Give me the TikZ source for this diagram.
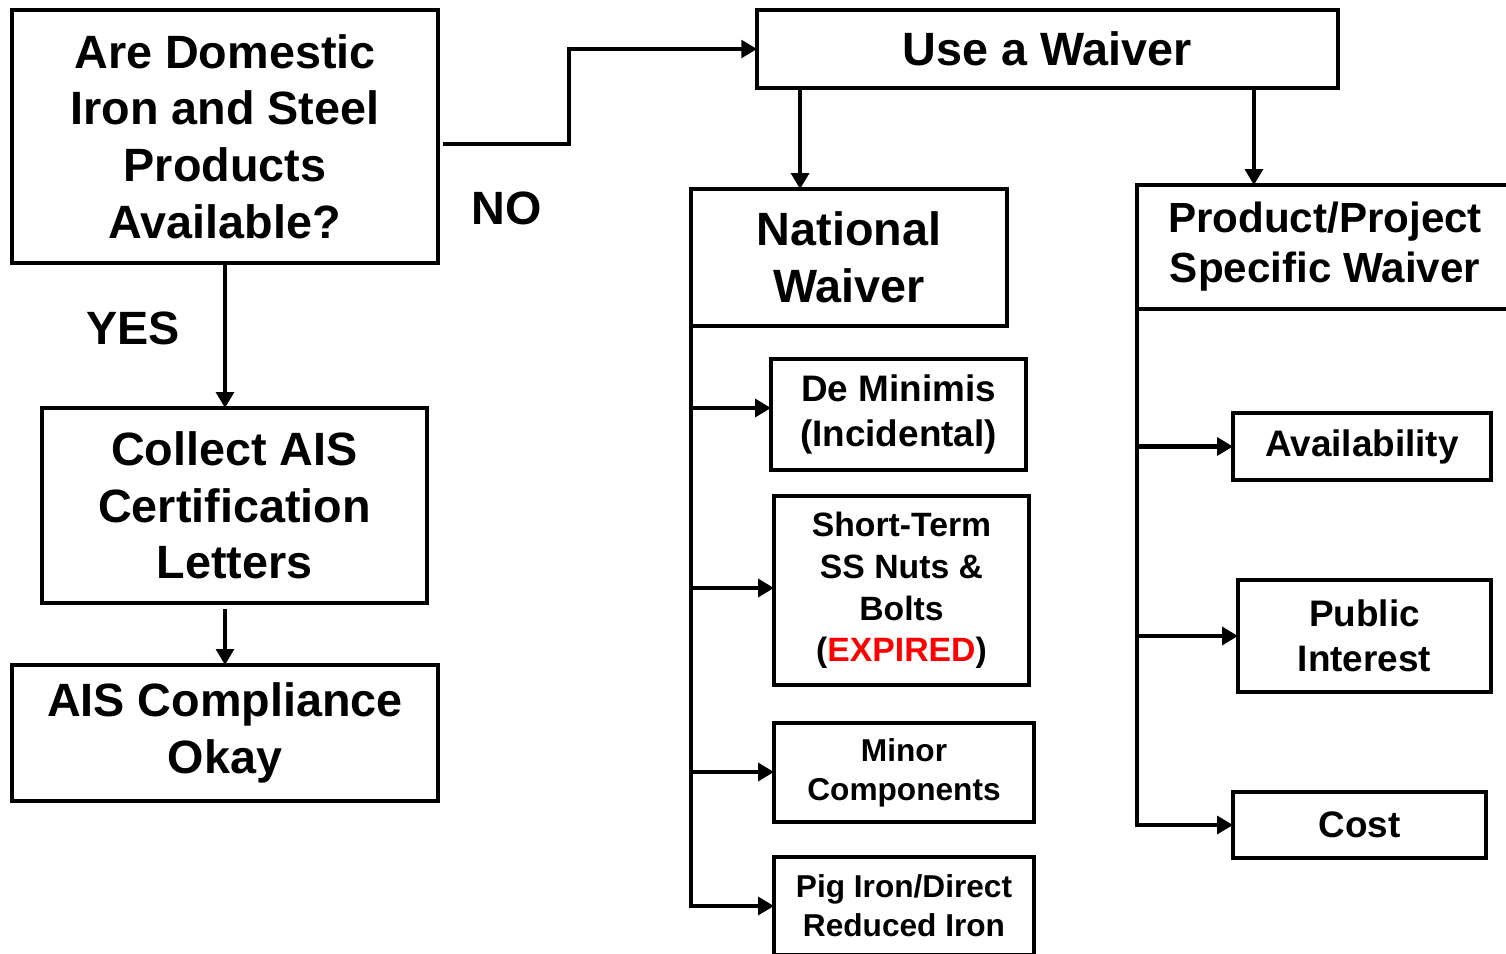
\documentclass[tikz,border=0pt]{standalone}
\usepackage{fontspec}
\setmainfont{Liberation Sans}
\usetikzlibrary{arrows.meta,positioning,calc}
\tikzset{
  % Boxes: bold sans label, thick black border
  bigbox/.style={draw, rectangle, line width=2.5pt, align=center, inner sep=0pt,
                 outer sep=0pt, font=\bfseries\fontsize{26.6}{32.3}\selectfont},
  specbox/.style={bigbox, font=\bfseries\fontsize{24}{28.4}\selectfont},
  midbox/.style={bigbox, font=\bfseries\fontsize{21}{25.5}\selectfont},
  shortbox/.style={bigbox, font=\bfseries\fontsize{19.2}{23.8}\selectfont},
  smallbox/.style={bigbox, font=\bfseries\fontsize{18}{22}\selectfont},
  % Arrows and trunk lines
  flowarr/.style={-{Triangle[length=9pt,width=10pt]}, line width=2.5pt},
  % YES / NO answers
  answer/.style={font=\bfseries\fontsize{26.6}{32.3}\selectfont}
}

\begin{document}
\begin{tikzpicture}[x=0.02cm, y=-0.02cm]
\useasboundingbox (0,0) rectangle (1506,953);
\clip (0,0) rectangle (1506,953);

% ============== LEFT: question and domestic path ==============
\node[bigbox, minimum width=8.52cm, minimum height=5.06cm] (q) at (225,136.5)
  {Are Domestic\\Iron and Steel\\Products\\Available?};
\node[bigbox, below=2.9cm of q, xshift=0.19cm, minimum width=7.7cm, minimum height=3.9cm] (collect)
  {Collect AIS\\Certification\\Letters};
\node[bigbox, below=1.24cm of collect, xshift=-0.19cm, minimum width=8.52cm, minimum height=2.72cm] (okay)
  {AIS Compliance\\Okay};

\node[answer] (yes) at (133,328) {YES};
\node[answer] (no) at (507,208) {NO};

% ============== TOP RIGHT: waiver ==============
\node[bigbox, minimum width=11.62cm, minimum height=1.56cm] (waiver) at (1047.5,49) {Use a Waiver};
\node[bigbox, minimum width=6.32cm, minimum height=2.74cm] (natl) at (849,257.5) {National\\Waiver};
\node[specbox, minimum width=7.52cm, minimum height=2.48cm] (spec) at (1325,247)
  {Product/Project\\Specific Waiver};

% ============== National waiver kinds ==============
\node[midbox, minimum width=5.1cm, minimum height=2.22cm] (demin) at (898.5,414.5)
  {De Minimis\\(Incidental)};
\node[shortbox, minimum width=5.1cm, minimum height=3.78cm] (short) at (901.5,590.5)
  {Short-Term\\SS Nuts \&\\Bolts\\(\textcolor{red}{EXPIRED})};
\node[smallbox, minimum width=5.2cm, minimum height=1.98cm] (minor) at (904,772.5)
  {Minor\\Components};
\node[smallbox, minimum width=5.2cm, minimum height=1.96cm] (pig) at (904,906)
  {Pig Iron/Direct\\Reduced Iron};

% ============== Specific waiver kinds ==============
\node[midbox, minimum width=5.16cm, minimum height=1.34cm] (avail) at (1362,446.5) {Availability};
\node[midbox, minimum width=5.06cm, minimum height=2.24cm] (public) at (1364.5,636) {Public\\Interest};
\node[midbox, minimum width=5.06cm, minimum height=1.32cm] (cost) at (1359.5,825) {Cost};

% ============== Connectors ==============
\coordinate (noStart) at ($(q.east)+(5,7.5)$);
\coordinate (okStart) at ($(q.south |- collect.south)+(0,6)$);
\coordinate (toNatl) at ($(waiver.south west)+(43,0)$);
\coordinate (toSpec) at ($(waiver.south east)+(-84,0)$);

\draw[flowarr] (q.south) -- (q.south |- collect.north);
\draw[flowarr] (okStart) -- (q.south |- okay.north);
\draw[flowarr] (noStart) -- ++(126,0) |- (waiver.west);
\draw[flowarr] (toNatl) -- (toNatl |- natl.north);
\draw[flowarr] (toSpec) -- (toSpec |- spec.north);

% national trunk and branches
\draw[flowarr] (natl.south west) |- (pig.west);
\foreach \b/\dy in {demin/-6.5, short/-2.5, minor/-0.5}
  \draw[flowarr] ($(natl.south west |- \b.west)+(0,\dy)$) -- ($(\b.west)+(0,\dy)$);

% specific trunk and branches
\draw[flowarr] (spec.south west) |- (cost.west);
\foreach \b in {avail, public}
  \draw[flowarr] (spec.south west |- \b.west) -- (\b.west);

\end{tikzpicture}
\end{document}
